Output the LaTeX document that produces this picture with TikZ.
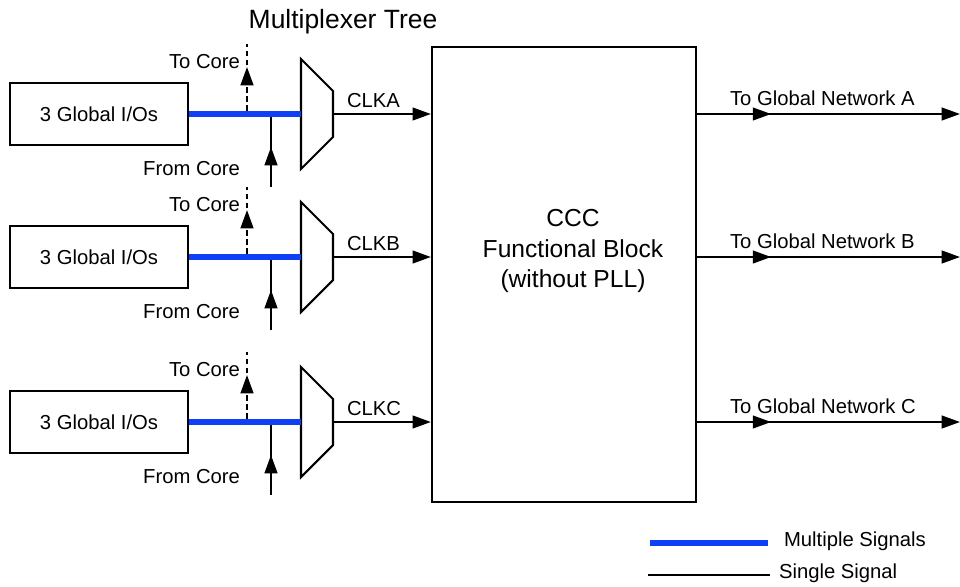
\documentclass[tikz,border=0pt]{standalone}
\usepackage{fontspec}
\setmainfont{Liberation Sans}
\usetikzlibrary{arrows.meta, positioning, calc, decorations.markings}
\definecolor{busblue}{RGB}{16,64,245}

\begin{document}
\begin{tikzpicture}[x=0.025cm, y=-0.025cm, line width=1.5pt,
  every node/.style={font=\fontsize{14.4}{17}\selectfont, inner sep=0pt},
  iobox/.style={draw, minimum width=4.45cm, minimum height=1.55cm},
  bus/.style={busblue, line width=4.8pt},
  tip/.style={-{Triangle[length=13pt,width=9pt]}},
  midtip/.style={postaction={decorate}, decoration={markings,
    mark=at position #1 with {\arrow{Triangle[length=13pt,width=9pt]}}}}]
  \useasboundingbox (0,0) rectangle (960,586);

  % CCC block
  \node[draw, minimum width=6.6cm, minimum height=11.375cm] (ccc) at (564,274.5) {};
  \node[align=center, font=\fontsize{17.5}{22}\selectfont] (ccclbl) at (573,251) {CCC\\Functional Block\\(without PLL)};
  \node[font=\fontsize{18.8}{22}\selectfont] (muxtitle) at (343,22) {Multiplexer Tree};

  \foreach \r/\y in {A/114, B/257, C/422} {
    \node[iobox] (io\r) at (99,\y) {3 Global I/Os};
    % mux trapezoid
    \draw (301,\y-55) -- (333,\y-23) -- (333,\y+23) -- (301,\y+55) -- cycle;
    \coordinate (muxin\r) at (301,\y);
    \coordinate (mux\r) at (333,\y);
    \draw[bus] (io\r.east) -- (muxin\r);
    % to core / from core
    \coordinate (tapup\r) at (247,\y-3);
    \coordinate (tocore\r) at (247,\y-70);
    \draw[dash pattern=on 4pt off 2.5pt, midtip=1.1cm] (tapup\r) -- (tocore\r);
    \coordinate (fromcore\r) at (271,\y+73);
    \coordinate (tapdn\r) at (271,\y+3);
    \draw[midtip=1cm] (fromcore\r) -- (tapdn\r);
    \node[anchor=east] (tolbl\r) at (241,\y-52) {To Core};
    \node[anchor=east] (fromlbl\r) at (241,\y+55) {From Core};
    % clock into CCC
    \draw[tip] (mux\r) -- (ccc.west |- mux\r);
    \node[anchor=west] (clk\r) at (346,\y-13) {CLK\r};
    % global network out
    \coordinate (out\r) at (960,\y);
    \draw[tip, midtip=1.85cm] (ccc.east |- mux\r) -- (out\r);
    \node[anchor=west] (netlbl\r) at (729,\y-16) {To Global Network \r};
  }

  % legend
  \coordinate (lgbusL) at (650,543);
  \coordinate (lgbusR) at (768,543);
  \draw[bus] (lgbusL) -- (lgbusR);
  \node[anchor=west] (lgbus) at (783,541) {Multiple Signals};
  \coordinate (lgsigL) at (648,575);
  \coordinate (lgsigR) at (770,575);
  \draw (lgsigL) -- (lgsigR);
  \node[anchor=west] (lgsig) at (778,573) {Single Signal};
\end{tikzpicture}
\end{document}
